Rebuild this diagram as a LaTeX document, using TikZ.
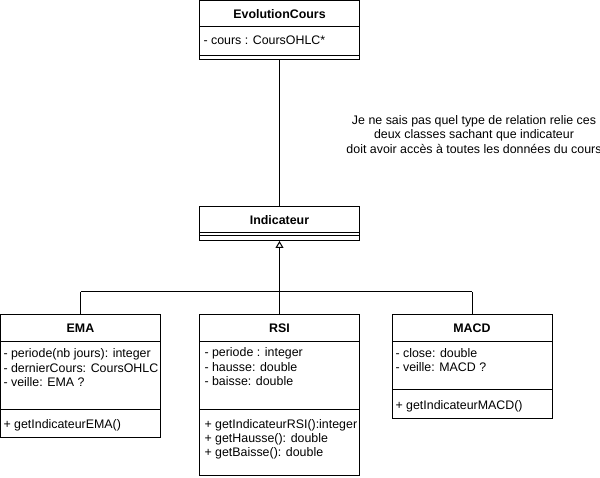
\documentclass[tikz,border=0pt]{standalone}
\usepackage{fontspec}
\setmainfont{Liberation Sans}
\usetikzlibrary{arrows.meta}
\begin{document}
\begin{tikzpicture}[x=1pt,y=-1pt,
  line width=1pt,
  box/.style={draw, line width=1pt, inner sep=0pt, minimum width=160pt},
  ttl/.style={font=\fontsize{12.4}{14}\selectfont\bfseries, inner sep=0pt},
  txt/.style={font=\fontsize{12.4}{14}\selectfont, anchor=west, inner sep=0pt},
  gen/.style={-{Triangle[open,length=7pt,width=8pt]}}]
\useasboundingbox (0,0) rectangle (600,478);
% EvolutionCours
\node[box, minimum height=59pt] (evo) at (279.5,30.5) {};
\draw (199.5,27) -- (359.5,27);
\draw (199.5,55.5) -- (359.5,55.5);
\node[ttl] (evot) at (279.5,14.5) {EvolutionCours};
\node[txt] (evoa) at (203,40.5) {- cours : CoursOHLC*};
% Indicateur
\node[box, minimum height=34pt] (ind) at (279.5,223.5) {};
\draw (199.5,232.5) -- (359.5,232.5);
\draw (199.5,236) -- (359.5,236);
\node[ttl] (indt) at (279.5,220) {Indicateur};
\draw (evo.south) -- (ind.north);
% Note
\begin{scope}
\clip (0,0) rectangle (600,478);
\node[font=\fontsize{12.4}{14.5}\selectfont, align=center, inner sep=0pt] (note) at (474,134.5)
  {Je ne sais pas quel type de relation relie ces\\deux classes sachant que indicateur\\doit avoir accès à toutes les données du cours};
\end{scope}
% EMA
\node[box, minimum height=122pt] (ema) at (80.5,376) {};
\draw (0.5,342) -- (160.5,342);
\draw (0.5,409) -- (160.5,409);
\node[ttl] (emat) at (80.5,328.5) {EMA};
\begin{scope}
\clip (0.5,315) rectangle (160,437);
\node[txt] (ema1) at (3,354.5) {- periode(nb jours): integer};
\node[txt] (ema2) at (3,368.5) {- dernierCours: CoursOHLC};
\node[txt] (ema3) at (3,382.5) {- veille: EMA ?};
\end{scope}
\node[txt] (ema4) at (3,425.5) {+ getIndicateurEMA()};
% RSI
\node[box, minimum height=160pt] (rsi) at (279.5,395) {};
\draw (199.5,342) -- (359.5,342);
\draw (199.5,409) -- (359.5,409);
\node[ttl] (rsit) at (279.5,328.5) {RSI};
\node[txt] (rsi1) at (204,353.5) {- periode : integer};
\node[txt] (rsi2) at (204,367.5) {- hausse: double};
\node[txt] (rsi3) at (204,381.5) {- baisse: double};
\node[txt] (rsi4) at (204,425.5) {+ getIndicateurRSI():integer};
\node[txt] (rsi5) at (204,439.5) {+ getHausse(): double};
\node[txt] (rsi6) at (204,453.5) {+ getBaisse(): double};
% MACD
\node[box, minimum height=103pt] (macd) at (472,366.5) {};
\draw (392,342) -- (552,342);
\draw (392,390) -- (552,390);
\node[ttl] (macdt) at (472,328.5) {MACD};
\node[txt] (macd1) at (395,353.5) {- close: double};
\node[txt] (macd2) at (395,367.5) {- veille: MACD ?};
\node[txt] (macd3) at (395,406.5) {+ getIndicateurMACD()};
% Generalization
\coordinate (j) at (279.5,292);
\coordinate (jl) at (80.5,292);
\coordinate (jr) at (472,292);
\draw[gen] (j) -- (ind.south);
\draw (jl) -- (jr);
\draw (jl) -- (ema.north);
\draw (j) -- (rsi.north);
\draw (jr) -- (macd.north);
\end{tikzpicture}
\end{document}
